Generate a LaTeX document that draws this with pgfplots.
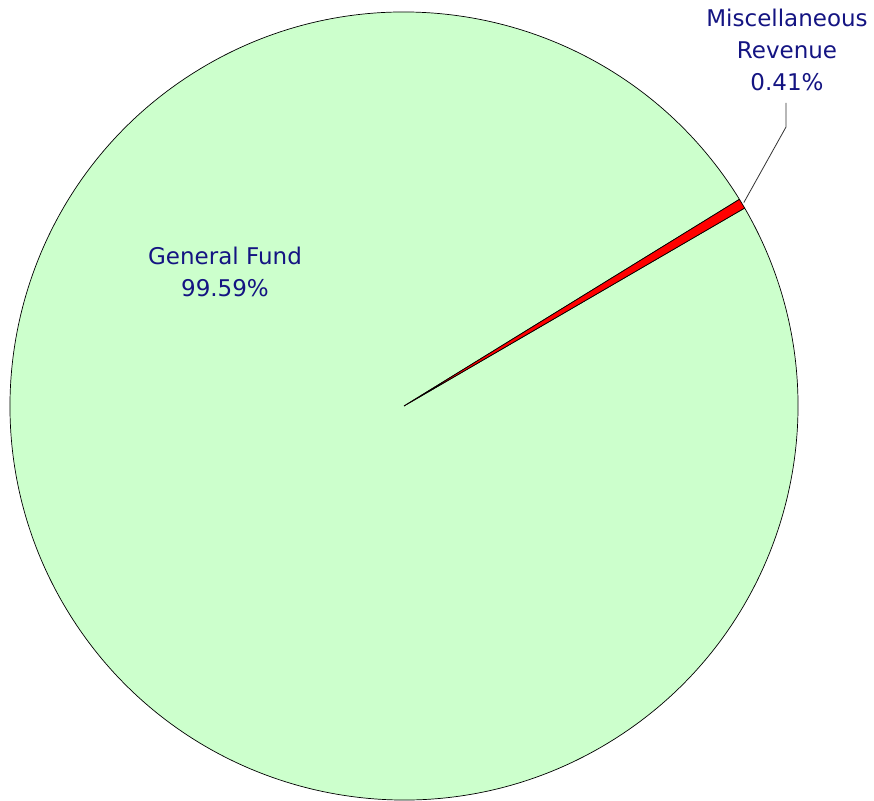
\documentclass[border=0pt]{standalone}
\usepackage{pgfplots}
\pgfplotsset{compat=1.18}
\usepackage{pgfplotstable}
\usepackage{fontspec}
\setmainfont{DejaVu Sans}
\definecolor{gfgreen}{RGB}{204,255,204}
\definecolor{lbl}{RGB}{20,20,130}
\pgfplotstableread{
label value
General 99.59
Misc 0.41
}\pietable
\begin{document}
\begin{tikzpicture}
\pgfplotstablegetelem{0}{value}\of\pietable \let\vGen\pgfplotsretval
\pgfplotstablegetelem{1}{value}\of\pietable \let\vMisc\pgfplotsretval
\pgfmathsetmacro{\aMid}{30.9}
\pgfmathsetmacro{\aS}{\aMid-1.8*\vMisc}
\pgfmathsetmacro{\aE}{\aMid+1.8*\vMisc}
\pgfmathsetmacro{\aG}{\aE+3.6*\vGen}
\begin{axis}[x=1pt,y=1pt,xmin=-404,xmax=470,ymin=-394,ymax=406,hide axis,clip=false]
\path[use as bounding box] (axis cs:-404,-394) rectangle (axis cs:470,406);
\draw[fill=gfgreen,line width=0.7pt] (axis cs:0,0) -- (axis cs:{394*cos(\aE)},{394*sin(\aE)}) arc[start angle=\aE,end angle=\aG,radius=394pt] -- cycle;
\draw[fill=red,line width=0.7pt] (axis cs:0,0) -- (axis cs:{394*cos(\aS)},{394*sin(\aS)}) arc[start angle=\aS,end angle=\aE,radius=394pt] -- cycle;
\draw[black!80,line width=0.8pt] (axis cs:{396*cos(\aMid)},{396*sin(\aMid)}) -- (axis cs:382,279) -- (axis cs:382,303);
\begin{scope}[every node/.style={text=lbl,font=\fontsize{23}{30}\selectfont,inner sep=0pt,anchor=base}]
\node at (axis cs:383,379) {Miscellaneous};
\node at (axis cs:383,347) {Revenue};
\node at (axis cs:383,315) {0.41\%};
\node at (axis cs:-179,141) {General Fund};
\node at (axis cs:-179,109) {99.59\%};
\end{scope}
\end{axis}
\end{tikzpicture}
\end{document}
